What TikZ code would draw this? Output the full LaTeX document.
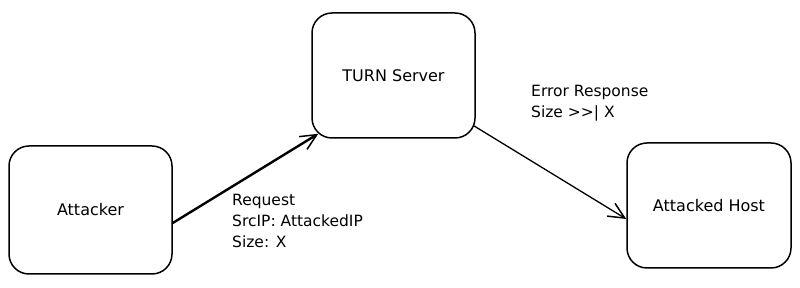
\documentclass[tikz,border=0pt]{standalone}
\usepackage{fontspec}
\setmainfont{DejaVu Sans}
\usetikzlibrary{arrows.meta}
\tikzset{
  box/.style={draw, line width=1.5pt, rounded corners=20pt, fill=white, align=center,
    font=\fontsize{16}{20}\selectfont},
  lbl/.style={align=left, anchor=west, inner sep=0pt, font=\fontsize{15.5}{21}\selectfont},
  conn/.style={-{Straight Barb[length=16pt,width=15pt,line width=1.5pt]}, line cap=round},
}
\begin{document}
\begin{tikzpicture}[x=1pt,y=1pt]
\useasboundingbox (0,0) rectangle (800,288);
\node[box, minimum width=163pt, minimum height=128pt] (atk) at (90.5,78) {Attacker};
\node[box, minimum width=163pt, minimum height=125pt] (turn) at (393.5,212.5) {TURN Server};
\node[box, minimum width=164pt, minimum height=125pt] (host) at (709,82.5) {Attacked Host};
\draw[conn, line width=2.4pt] ([yshift=-13pt]atk.east) -- ([xshift=7pt,yshift=5pt]turn.south west);
\draw[conn, line width=1.3pt] ([xshift=-2pt,yshift=13pt]turn.south east) -- ([yshift=-13.5pt]host.west);
\node[lbl] (req) at (232,67) {Request\\SrcIP: AttackedIP\\Size: X};
\node[lbl] (err) at (531,185) {Error Response\\Size >{}>| X};
\end{tikzpicture}
\end{document}
